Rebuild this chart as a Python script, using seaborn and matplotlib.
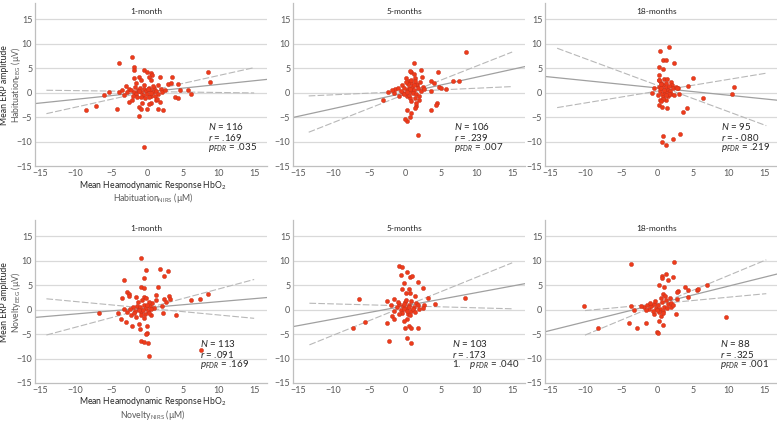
import matplotlib
matplotlib.use("Agg")
import matplotlib.pyplot as plt
import numpy as np, pandas as pd
import seaborn as sns

sns.set_style("white")
plt.rcParams['font.family'] = ['Lato', 'DejaVu Sans']
plt.rcParams['mathtext.fontset'] = 'custom'
plt.rcParams['mathtext.rm'] = 'Lato'
plt.rcParams['mathtext.it'] = 'Lato:italic'

titles = ["1-month", "5-months", "18-months"]

# ---- Habituation (top row) ----
hab_1m_x = [-2.1, -3.9, -1.8, -1.8, -0.4, 0.0, 0.6, 0.7, 0.2, -1.2, -1.8, 3.5, 1.8, 0.5, -0.8,
            -1.5, 3.0, 4.4, 1.6, -2.9, 8.6, 8.8, 5.8, 6.2, 4.6, 3.9, 4.4, -5.3, -4.0, -6.1,
            -8.5, -7.2, -4.2, -2.5, -2.1, -1.2, -0.9, 0.0, 0.5, 1.6, 2.2, 1.8, 1.2, -1.2, -0.4,
            -2.5, -2.2, -1.9, -1.6, -1.3, -1.0, -0.8, -0.6, -0.4, -0.2, 0.0, 0.2, 0.4, 0.6, 0.8,
            1.0, 1.3, 1.6, 1.9, 2.1, -1.4, -0.9, -0.3, 0.3, 1.1, -2.8, -3.2, -1.7, 0.9, -0.5,
            2.5, 3.3, -3.5, -2.0, 0.1, -1.1, 0.5, 1.4, -0.7, 0.3]
hab_1m_y = [7.3, 6.0, 5.2, 4.6, 4.6, 4.2, 4.0, 3.5, 3.2, 3.2, 2.9, 3.2, 3.2, 2.5, 2.5,
            2.0, 1.8, 1.8, 1.5, 1.3, 4.2, 2.2, 0.5, -0.2, 0.5, -1.0, -1.2, 0.1, 0.1, -0.5,
            -3.5, -2.8, -3.3, -1.9, -1.6, -2.9, -3.3, -3.3, -2.2, -3.3, -3.6, -1.9, -1.6, -4.8, -11.1,
            0.8, 0.5, 0.2, -0.3, 0.6, 0.9, 0.1, -0.4, 0.7, 0.3, -0.2, 0.9, 0.5, -0.6, 0.2,
            1.0, 0.4, -0.3, 0.7, 0.1, -1.0, -0.9, -1.2, -1.0, -0.8, 0.2, -0.4, 1.2, 1.4, 1.5,
            0.6, 1.9, 0.6, -0.8, 0.8, 0.3, 0.0, -1.3, -2.1, -2.3]

hab_5m_x = [8.6, 1.3, 2.3, 0.9, 0.7, 1.2, 0.1, 1.4, 2.4, 4.6, 6.7, 7.6, 3.7, 4.0, 2.1,
            0.6, 0.9, 4.8, 5.7, 5.1, 3.7, 1.7, -0.5, -1.4, -2.4, -1.6, -0.9, -3.1, -0.3, 0.2,
            0.7, 1.4, 2.0, 1.6, 1.4, 0.3, 0.8, 0.7, 0.3, 0.0, 3.7, 4.5, 4.4, 1.8,
            0.2, 0.5, 0.8, 1.0, 1.3, 1.6, 0.4, 0.9, 1.1, 1.5, 0.6, -0.2, -0.6, 1.8, 2.2,
            0.1, 1.2, 0.7, 1.9, -0.1, 2.5, -1.0, 1.4, 0.3, -1.8, 0.9, 1.6, 2.6]
hab_5m_y = [8.2, 6.0, 4.6, 4.2, 4.4, 3.8, 3.0, 2.9, 3.2, 4.2, 2.3, 2.3, 2.3, 2.0, 2.2,
            2.3, 2.0, 1.1, 0.8, 1.0, 0.4, 1.5, 1.5, 0.8, 0.1, -0.1, -0.8, -1.6, -0.1, -0.8,
            -1.1, -1.1, -1.6, -2.8, -3.2, -3.5, -4.2, -4.9, -5.8, -5.5, -3.5, -2.1, -2.5, -8.6,
            0.5, 1.0, 0.3, 1.2, 0.6, 1.8, 1.7, 2.6, 0.0, -0.3, -0.4, 0.9, 0.4, 0.9, 0.3,
            2.1, 1.5, 0.8, -0.6, -0.3, 1.2, 1.0, 2.4, 0.1, 0.5, -1.8, -2.2, 0.7]

hab_18m_x = [1.7, 0.4, 0.9, 1.2, 2.4, 0.2, 0.9, 0.2, 0.3, 5.1, 4.3, 10.8, 10.5, 6.5, -0.5,
             -0.7, 0.4, 0.2, 0.7, 1.4, 3.1, 3.0, 4.2, 3.6, 3.2, 2.2, 0.9, 0.7, 1.2,
             0.5, 0.8, 1.0, 1.3, 1.6, 1.9, 2.1, 0.4, 0.7, 1.1, 1.5, 1.8, 2.0, 0.2, 0.6, 1.2,
             1.4, 1.7, 2.3, 2.6, 0.9, 1.3, 0.1, 0.3, 1.0, 1.7, 2.4, 0.6, 0.8, 2.8, 1.2, 0.5]
hab_18m_y = [9.4, 8.5, 6.6, 6.6, 6.1, 5.2, 4.8, 3.6, 2.5, 2.9, 1.3, 1.2, -0.3, -1.2, 0.9,
             0.0, -1.6, -2.5, -2.9, -3.1, -0.2, 0.9, -3.2, -4.0, -8.4, -9.5, -8.9, -10.0, -10.7,
             2.0, 1.5, 2.7, 1.1, 0.6, 2.2, 1.6, 0.3, -0.3, 0.1, -0.7, 0.4, -0.2, 1.2, 0.9, 2.0,
             2.8, 1.3, 0.9, 1.2, -0.9, -1.5, -0.5, 2.5, 0.5, -0.2, -0.5, 1.8, -1.3, 1.0, -0.4, -1.8]

# ---- Novelty (bottom row) ----
nov_1m_x = [-0.9, -0.1, 1.8, 3.0, -0.5, 2.4, -3.2, -0.8, -0.4, 1.6, -2.8, -2.5, -2.6, -3.5, -1.6,
            -0.4, -0.1, 1.3, 3.1, 3.2, 2.4, 2.6, 2.1, 6.1, 7.4, 8.6, -6.7, -4.1, -3.2, -3.7,
            -3.0, -2.3, -2.1, -1.2, -1.0, 0.0, -0.9, -0.5, 0.0, -0.2, 0.1, 0.3, 4.0, 2.3, 7.6,
            -2.0, -1.7, -1.4, -1.1, -0.8, -0.5, -0.2, 0.1, 0.4, 0.7, -1.9, -1.3, -0.9, -0.3, 0.2,
            0.5, -2.4, -1.0, -0.6, 0.0, 1.0, -1.5, -0.4, 0.3, 1.2, -2.8, -0.7, 0.6, -1.2]
nov_1m_y = [10.5, 8.1, 8.2, 7.9, 6.5, 6.8, 6.0, 4.6, 4.4, 4.6, 3.6, 3.2, 2.8, 2.3, 2.6,
            2.6, 2.3, 2.9, 2.8, 2.2, 2.2, 1.5, 0.8, 1.9, 2.1, 3.1, -0.8, -0.6, 0.1, -1.9,
            -2.5, -1.2, -3.3, -3.0, -4.0, -3.4, -6.4, -6.6, -4.7, -5.0, -6.9, -9.5, -1.2, -0.7, -8.3,
            0.5, -0.3, 0.8, 0.2, -0.5, 1.0, 0.4, -0.2, 0.7, 1.3, -0.8, 1.5, -1.2, -0.9, 1.6,
            -1.1, 0.1, 0.6, 0.0, 0.9, 0.3, -1.6, -1.7, -0.6, 1.9, -0.4, 2.0, 0.2, -0.1]

nov_5m_x = [-0.8, -0.4, 0.2, -0.6, 0.7, 1.0, -0.1, 1.8, 2.5, -0.5, 0.6, 0.7, 0.1, 1.4, 3.2,
            -1.5, -6.4, -2.5, 8.4, 4.2, 2.6, 2.5, -1.9, -1.5, -2.5, -5.6, -7.3, 0.2, -0.1, 0.0,
            0.6, 0.9, 1.8, 0.2, 0.8, -2.2,
            -1.2, -0.9, -0.6, -0.3, 0.0, 0.3, 0.6, 0.9, 1.2, 1.5, -1.5, -0.4, 0.1, 0.4, 0.8,
            1.1, -0.8, -0.2, 0.5, 1.8, -1.0, 0.2, 0.7, -0.1, 1.4, 2.0, -2.0]
nov_5m_y = [9.0, 8.6, 7.7, 7.0, 6.6, 6.8, 5.5, 5.7, 4.4, 4.3, 4.3, 3.4, 3.4, 2.8, 2.4,
            2.1, 2.1, 1.7, 2.4, 1.2, 0.9, 0.3, -1.3, -2.0, -2.8, -2.6, -3.8, -1.9, -2.4, -3.8,
            -3.3, -3.8, -3.8, -5.9, -6.8, -6.5,
            0.5, 1.2, 0.0, 0.8, 1.5, 0.3, 1.0, -0.3, 0.6, 1.3, -0.2, -0.6, 2.0, -0.9, 1.8,
            0.1, -0.9, 0.2, 0.6, 0.9, 1.6, -0.3, -1.2, 1.1, -0.4, 0.2, 0.9]

nov_18m_x = [2.4, -3.6, 0.7, 1.2, 0.7, 2.3, 1.6, 0.2, 1.0, 3.9, 4.4, 5.6, 5.8, 7.0, 3.0,
             2.8, 4.4, 2.8, 0.8, 1.1, 1.8, -10.2, -3.6, -3.3, -8.3, -3.9, -2.8, -1.6, 0.2, 0.9,
             -0.05, 0.1, 2.7, 9.7, 2.0, -0.5, 0.5,
             -1.8, -1.4, -1.1, -0.8, -0.5, -0.2, 0.1, 0.4, 0.7, 1.0, 1.3, 1.6, -0.6, 0.3, 0.9,
             1.4, -1.5, 0.6, 1.9, -0.3, 2.2, 0.0, -2.2, -1.0, 0.8]
nov_18m_y = [9.8, 9.3, 6.9, 7.3, 6.4, 6.6, 6.0, 5.0, 4.7, 4.6, 4.1, 4.0, 4.3, 5.0, 3.8,
             3.5, 2.6, 2.1, 3.1, 2.8, 2.4, 0.8, 0.8, 0.0, -3.7, -2.8, -3.8, -2.8, -2.4, -3.2,
             -4.5, -4.8, -1.0, -1.5, 0.5, -0.9, -1.4,
             0.5, 1.0, 0.2, 0.7, 1.2, 0.4, 0.9, 0.1, 1.5, 0.6, 1.9, 1.1, -0.3, -0.5, -0.2,
             0.3, -0.1, 2.3, 1.4, 1.8, 0.9, 0.0, 0.7, 1.4, -0.8]

# regression line (intercept, slope) and the two bounding lines
hab_fit = [(0.14, 0.152), (-0.06, 0.32), (0.95, -0.149)]
hab_bound_a = [(0.25, 0.323), (-0.34, 0.575), (1.5, -0.54)]
hab_bound_b = [(0.21, -0.019), (0.22, 0.067), (0.29, 0.24)]
hab_bound_x = [(-14.1, 15.0), (-13.5, 15.0), (-14.0, 15.3)]

nov_fit = [(0.36, 0.125), (0.76, 0.27), (1.16, 0.363)]
nov_bound_a = [(0.3, 0.39), (0.7, 0.59), (0.9, 0.606)]
nov_bound_b = [(0.27, -0.137), (0.76, -0.04), (1.17, 0.136)]
nov_bound_x = [(-14.1, 15.0), (-13.4, 15.0), (-10.1, 15.3)]

hab_N = [116, 106, 95]
hab_r = [".169", ".239", "-.080"]
hab_p = [".035", ".007", ".219"]
hab_text_x = [8.5, 6.8, 8.9]

nov_N = [113, 103, 88]
nov_r = [".091", ".173", ".325"]
nov_p = [".169", ".040", ".001"]
nov_text_x = [7.4, 6.6, 8.8]

XLIM = (-15.7, 16.8)
YLIM = (-15, 18.3)
DOT = "#EE3B1B"
GRAY_TXT = "#595959"

fig = plt.figure(figsize=(7.77, 4.22), dpi=100)
lefts = [35 / 777, 293 / 777, 545 / 777]
bottoms = [1 - 166 / 422, 1 - 383 / 422]
W, H = 232 / 777, 163 / 422


def draw_panel(ax, xs, ys, fit, ba, bb, bx, title, N, r, p, tx, numbered=False):
    df = pd.DataFrame({"x": xs, "y": ys})
    full = np.array(XLIM)
    lines = pd.DataFrame({
        "x": list(full) + list(bx) + list(bx),
        "y": list(fit[0] + fit[1] * full)
             + [ba[0] + ba[1] * v for v in bx] + [bb[0] + bb[1] * v for v in bx],
        "kind": ["fit"] * 2 + ["ba"] * 2 + ["bb"] * 2,
    })
    for y in [-10, -5, 0, 5, 10, 15]:
        ax.axhline(y, color="#d9d9d9", lw=0.9, zorder=0)
    sns.lineplot(data=lines[lines.kind == "fit"], x="x", y="y", ax=ax,
                 color="#a0a0a0", lw=0.9, zorder=1)
    for k in ["ba", "bb"]:
        sns.lineplot(data=lines[lines.kind == k], x="x", y="y", ax=ax,
                     color="#b8b8b8", lw=0.8, linestyle=(0, (6, 2)), zorder=1)
    sns.scatterplot(data=df, x="x", y="y", ax=ax, color=DOT, s=9,
                    edgecolor="#c0301a", linewidth=0.3, zorder=3)
    ax.set_xlim(XLIM)
    ax.set_ylim(YLIM)
    ax.set_xticks(range(-15, 16, 5))
    ax.set_yticks(range(-15, 16, 5))
    ax.tick_params(length=0, labelsize=6.5, labelcolor=GRAY_TXT, pad=2)
    ax.set_xlabel("")
    ax.set_ylabel("")
    for s in ["top", "right"]:
        ax.spines[s].set_visible(False)
    for s in ["left", "bottom"]:
        ax.spines[s].set_color("#bfbfbf")
        ax.spines[s].set_linewidth(0.9)
    ax.text(0.48, 0.945, title, transform=ax.transAxes, ha="center", va="center",
            fontsize=6, color="#262626")
    ax.text(tx, -6.9, f"$N$ = {N}", fontsize=7, color="#262626", va="center")
    ax.text(tx, -9.1, f"$r$ = {r}", fontsize=7, color="#262626", va="center")
    ptxt = f"$p_{{FDR}}$ = {p}"
    if numbered:
        ptxt = "1.    " + ptxt
    ax.text(tx, -11.3, ptxt, fontsize=7, color="#262626", va="center")


hab_x = [hab_1m_x, hab_5m_x, hab_18m_x]
hab_y = [hab_1m_y, hab_5m_y, hab_18m_y]
nov_x = [nov_1m_x, nov_5m_x, nov_18m_x]
nov_y = [nov_1m_y, nov_5m_y, nov_18m_y]

for i in range(3):
    ax = fig.add_axes([lefts[i], bottoms[0], W, H])
    draw_panel(ax, hab_x[i], hab_y[i], hab_fit[i], hab_bound_a[i], hab_bound_b[i],
               hab_bound_x[i], titles[i], hab_N[i], hab_r[i], hab_p[i], hab_text_x[i])
    ax = fig.add_axes([lefts[i], bottoms[1], W, H])
    draw_panel(ax, nov_x[i], nov_y[i], nov_fit[i], nov_bound_a[i], nov_bound_b[i],
               nov_bound_x[i], titles[i], nov_N[i], nov_r[i], nov_p[i], nov_text_x[i],
               numbered=(i == 1))

# axis labels (only on the left column)
for row, (cond, ycen, xl1, xl2) in enumerate([("Habituation", 85, 186, 198),
                                               ("Novelty", 302, 402, 415)]):
    fig.text(5 / 777, 1 - ycen / 422, "Mean ERP amplitude", rotation=90,
             ha="center", va="center", fontsize=6.2, color="#262626")
    fig.text(16 / 777, 1 - ycen / 422, cond + r"$_{\mathregular{EEG}}$ (µV)", rotation=90,
             ha="center", va="center", fontsize=6.2, color=GRAY_TXT)
    fig.text(153 / 777, 1 - xl1 / 422, r"Mean Heamodynamic Response HbO$_{\mathregular{2}}$",
             ha="center", va="center", fontsize=6.2, color="#262626")
    fig.text(153 / 777, 1 - xl2 / 422, cond + r"$_{\mathregular{NIRS}}$ (µM)",
             ha="center", va="center", fontsize=6.2, color=GRAY_TXT)

fig.savefig("out.png", dpi=100, facecolor="white")
